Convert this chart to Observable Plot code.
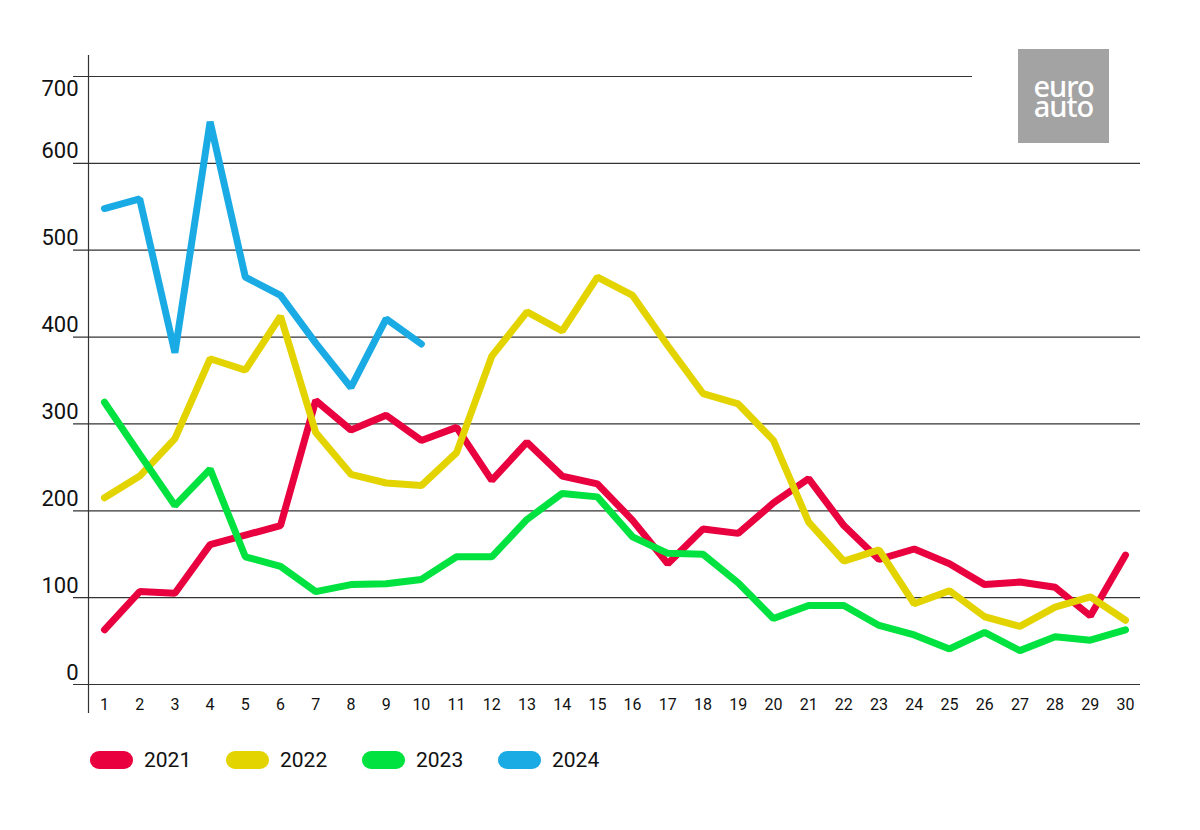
<!DOCTYPE html>
<html>
<head>
<meta charset="utf-8">
<script src="https://cdn.jsdelivr.net/npm/d3@7"></script>
<script src="https://cdn.jsdelivr.net/npm/@observablehq/plot@0.6"></script>
<style>
  body { margin: 0; background: #fff; font-family: Roboto, "Noto Sans", sans-serif; }
  #wrap { position: relative; width: 1200px; height: 830px; }
  #chart svg { display: block; }
  .legend { display: flex; align-items: center; height: 18px; margin-top: 21px; padding-left: 90px; }
  .item { display: flex; align-items: center; width: 136px; }
  .sw { width: 43px; height: 18px; border-radius: 9px; margin-right: 11px; }
  .lab { font-size: 21px; line-height: 18px; color: #111; }
  .logo { position: absolute; left: 1018px; top: 49px; width: 91px; height: 94px; background: #a3a3a3;
          color: #fff; display: flex; align-items: center; justify-content: center; }
  .logo div { font-family: "Noto Sans", Roboto, sans-serif; font-weight: 500; font-size: 29px; line-height: 20px;
          letter-spacing: -1px; white-space: pre-line; text-align: center; }
</style>
</head>
<body>
<div id="wrap">
  <div id="chart"></div>
  <div class="legend" id="legend"></div>
  <div class="logo"><div id="logotext"></div></div>
</div>
<script>
const days = [1,2,3,4,5,6,7,8,9,10,11,12,13,14,15,16,17,18,19,20,21,22,23,24,25,26,27,28,29,30];
const years = ["2021", "2022", "2023", "2024"];
const colors = ["#e8003f", "#e3d400", "#00e23f", "#1babe4"];
const yTicks = [0, 100, 200, 300, 400, 500, 600, 700];
const logoText = "euro\nauto";

const v2021 = [63,107,105,161,172,183,327,293,310,281,296,235,279,240,231,189,139,179,174,209,237,183,144,156,139,115,118,112,79,149];
const v2022 = [215,240,283,375,362,424,290,242,232,229,267,378,429,407,469,448,390,335,323,281,187,142,155,93,108,78,67,89,101,74];
const v2023 = [325,265,206,248,147,136,107,115,116,121,147,147,190,220,216,170,151,150,117,76,91,91,68,57,41,60,39,55,51,63];
const v2024 = [548,559,382,648,469,448,393,342,421,392];

const series = [v2021, v2022, v2023, v2024];
const table = [];
series.forEach((vals, i) => vals.forEach((v, j) => table.push({year: years[i], day: days[j], value: v})));

const chart = Plot.plot({
  width: 1200,
  height: 730,
  marginLeft: 104,
  marginRight: 75,
  marginTop: 76,
  marginBottom: 46,
  style: {fontFamily: "Roboto, 'Noto Sans', sans-serif", background: "white", color: "#111"},
  x: {domain: [1, 30], label: null},
  y: {domain: [0, 700], label: null},
  color: {domain: years, range: colors},
  marks: [
    Plot.ruleY(yTicks.filter(d => d < 700), {stroke: "#333", strokeWidth: 1.2, insetLeft: -31, insetRight: -15}),
    Plot.ruleY(yTicks.filter(d => d === 700), {stroke: "#333", strokeWidth: 1.2, insetLeft: -31, insetRight: 153}),
    Plot.ruleX([days[0]], {dx: -16, insetTop: -21, insetBottom: -29, stroke: "#333", strokeWidth: 1.2}),
    Plot.axisY({ticks: yTicks.filter(d => d !== 700), tickSize: 0, tickPadding: 26, dy: -12, fontSize: 22, label: null}),
    Plot.axisY({ticks: yTicks.filter(d => d === 700), tickSize: 0, tickPadding: 26, dy: 12, fontSize: 22, label: null}),
    Plot.axisX({ticks: days, tickSize: 0, tickPadding: 14, fontSize: 16, label: null}),
    Plot.line(table, {x: "day", y: "value", z: "year", stroke: "year", strokeWidth: 7,
                      strokeLinejoin: "miter", strokeLinecap: "round"})
  ]
});
document.getElementById("chart").appendChild(chart);
document.getElementById("logotext").textContent = logoText;

const legend = document.getElementById("legend");
years.forEach((y, i) => {
  const item = document.createElement("div");
  item.className = "item";
  const sw = document.createElement("div");
  sw.className = "sw";
  sw.style.background = colors[i];
  const lab = document.createElement("div");
  lab.className = "lab";
  lab.textContent = y;
  item.appendChild(sw);
  item.appendChild(lab);
  legend.appendChild(item);
});
</script>
</body>
</html>
